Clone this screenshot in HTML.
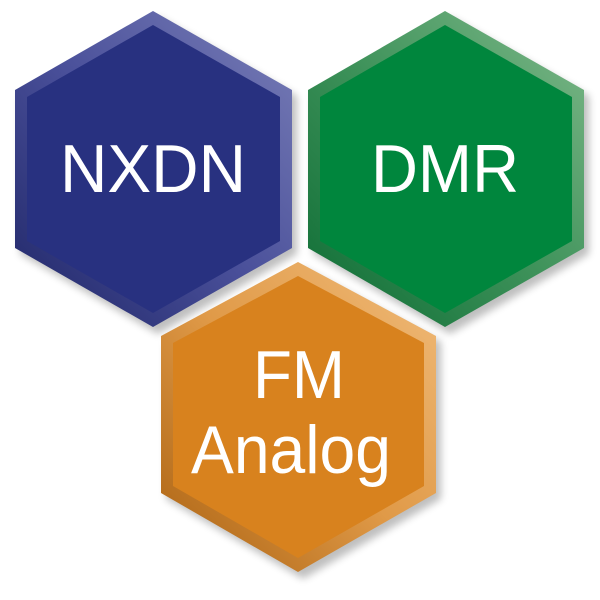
<!DOCTYPE html>
<html><head><style>html,body{margin:0;padding:0;background:#fff;width:600px;height:600px;overflow:hidden}</style></head>
<body>
<svg width="600" height="600" viewBox="0 0 600 600" xmlns="http://www.w3.org/2000/svg">
<defs>
<linearGradient id="gb" x1="1" y1="0" x2="0" y2="1"><stop offset="0" stop-color="#7a7fb8"/><stop offset="0.5" stop-color="#4a509a"/><stop offset="1" stop-color="#1e2566"/></linearGradient>
<linearGradient id="gg" x1="1" y1="0" x2="0" y2="1"><stop offset="0" stop-color="#7fb98a"/><stop offset="0.5" stop-color="#3e925a"/><stop offset="1" stop-color="#0c6b33"/></linearGradient>
<linearGradient id="go" x1="1" y1="0" x2="0" y2="1"><stop offset="0" stop-color="#f0bb7a"/><stop offset="0.5" stop-color="#e09a48"/><stop offset="1" stop-color="#a9600f"/></linearGradient>
<filter id="sh" x="-10%" y="-10%" width="130%" height="130%"><feGaussianBlur stdDeviation="4"/></filter>
</defs>
<g fill="#000" opacity="0.25" filter="url(#sh)">
<polygon points="158,17 297,96 297,254 158,334 20,254 20,96"/>
<polygon points="450,17 589,96 589,254 450,334 313,254 313,96"/>
<polygon points="303,268 441,342 441,499 303,579 166,499 166,342"/>
</g>
<polygon points="153,11 292,90 292,248 153,327 15,248 15,90" fill="url(#gb)"/>
<polygon points="153,25 280,97 280,241 153,313 27,241 27,97" fill="#283180"/>
<polygon points="445,11 584,90 584,248 445,327 308,248 308,90" fill="url(#gg)"/>
<polygon points="445,25 572,97 572,241 445,313 320,241 320,97" fill="#00863d"/>
<polygon points="298,262 436,336 436,493 298,572 161,493 161,336" fill="url(#go)"/>
<polygon points="298,276 424,343 424,486 298,558 173,486 173,343" fill="#d8821e"/>
<g fill="#fff" font-family="Liberation Sans, sans-serif" font-size="68" text-anchor="middle">
<text x="153" y="192" textLength="186" lengthAdjust="spacingAndGlyphs">NXDN</text>
<text x="445" y="192" textLength="148" lengthAdjust="spacingAndGlyphs">DMR</text>
<text x="299" y="398" textLength="92" lengthAdjust="spacingAndGlyphs">FM</text>
<text x="291" y="473" textLength="200" lengthAdjust="spacingAndGlyphs">Analog</text>
</g>
</svg>
</body></html>
